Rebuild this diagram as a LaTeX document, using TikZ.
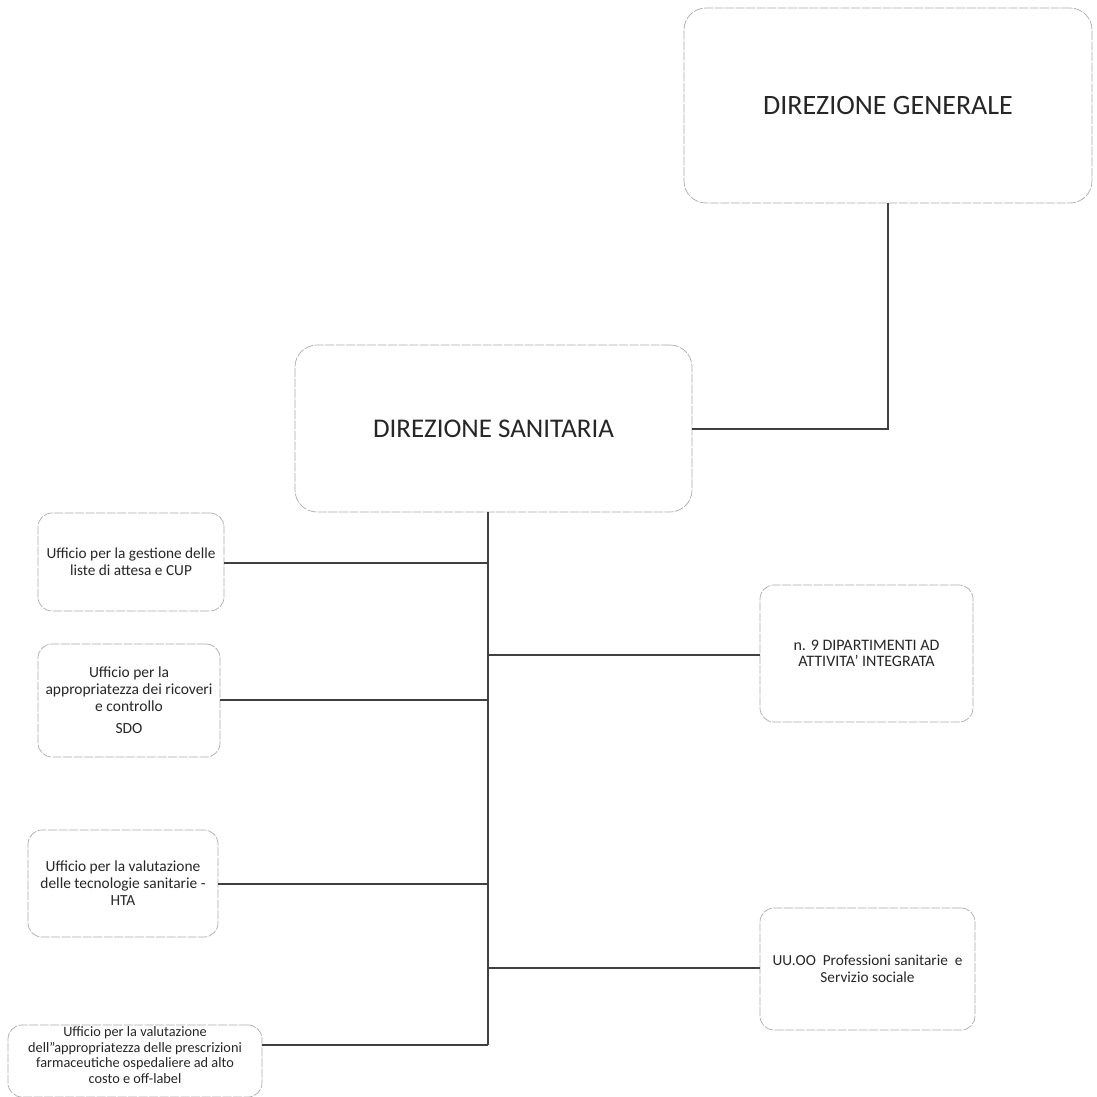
\documentclass[tikz,border=0pt]{standalone}
\usepackage{fontspec}
\setmainfont{Carlito}
\begin{document}
\begin{tikzpicture}[x=1pt,y=-1pt,
  unit/.style={draw=gray!65, line width=0.7pt, dash pattern=on 9pt off 1.5pt,
    rounded corners=22pt, align=center, inner sep=0pt, text=black!85},
  big/.style={unit, font=\fontsize{28}{32}\selectfont},
  small/.style={unit, rounded corners=14pt},
  fs/.style={font=\fontsize{#1}{17}\selectfont},
  link/.style={draw=black!75, line width=2pt}]
\useasboundingbox (0,0) rectangle (1097,1097);
\fill[white] (0,0) rectangle (1097,1097);

\node[big, minimum width=408, minimum height=195] (dg) at (888,105.5) {DIREZIONE GENERALE};
\node[big, font=\fontsize{27}{31}\selectfont, minimum width=397, minimum height=167] (ds) at (493.5,428.5) {DIREZIONE SANITARIA};

\node[small, fs=15.3, minimum width=186, minimum height=98] (b1) at (131,562)
  {Ufficio per la gestione delle\\liste di attesa e CUP};
\node[small, fs=15.5, minimum width=182, minimum height=113] (b2) at (129,700.5)
  {Ufficio per la\\appropriatezza dei ricoveri\\e controllo\\[5pt]SDO};
\node[small, fs=15.4, minimum width=190, minimum height=107] (b3) at (123,883.5)
  {Ufficio per la valutazione\\delle tecnologie sanitarie -\\HTA};
\node[small, minimum width=254, minimum height=72] (b4) at (135,1061) {};
\node[font=\fontsize{14.3}{15.7}\selectfont, align=center, text=black!85] (b4t) at (135,1055)
  {Ufficio per la valutazione\\dell''appropriatezza delle prescrizioni\\farmaceutiche ospedaliere ad alto\\costo e off-label};

\node[small, font=\fontsize{16}{16}\selectfont, minimum width=213, minimum height=137] (r1) at (866.5,653.5)
  {n. 9 DIPARTIMENTI AD\\ATTIVITA' INTEGRATA};
\node[small, fs=15.3, minimum width=215, minimum height=122] (r2) at (867.5,969)
  {UU.OO\ \ Professioni sanitarie\ \ e\\Servizio sociale};

% links
\coordinate (dgturn) at (dg.south |- ds.east);
\draw[link] (dg.south) -- (dgturn) -- (ds.east);

\coordinate (ttop) at (488,512);
\coordinate (t1) at (488,563);
\coordinate (t2) at (488,700);
\coordinate (t3) at (488,884);
\coordinate (t4) at (488,1045);
\coordinate (tr1) at (488,655);
\coordinate (tr2) at (488,968);
\draw[link] (ttop) -- (t4);
\draw[link] (b1.east |- t1) -- (t1);
\draw[link] (b2.east |- t2) -- (t2);
\draw[link] (b3.east |- t3) -- (t3);
\draw[link] (b4.east |- t4) -- (t4);
\draw[link] (tr1) -- (r1.west |- tr1);
\draw[link] (tr2) -- (r2.west |- tr2);
\end{tikzpicture}
\end{document}
